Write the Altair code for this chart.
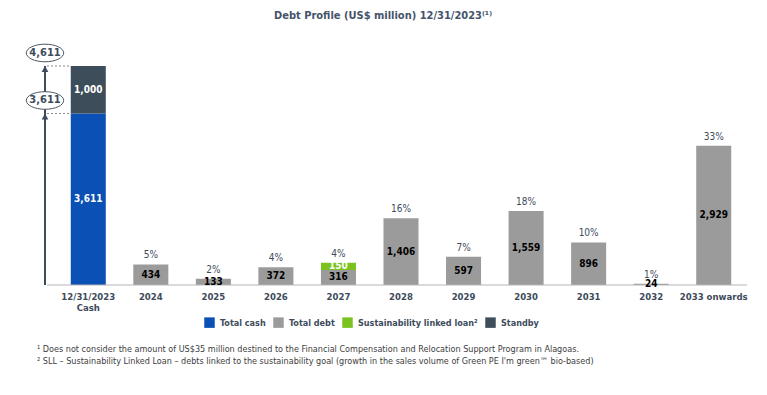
import altair as alt
import pandas as pd

categories = ["12/31/2023 Cash", "2024", "2025", "2026", "2027", "2028",
              "2029", "2030", "2031", "2032", "2033 onwards"]
cash_value = 3611
standby_value = 1000
debt_years = categories[1:]
debt_values = [434, 133, 372, 316, 1406, 597, 1559, 896, 24, 2929]
debt_pct = ["5%", "2%", "4%", "4%", "16%", "7%", "18%", "10%", "1%", "33%"]
sll_year = "2027"
sll_value = 150
series_names = ["Total cash", "Total debt", "Sustainability linked loan²", "Standby"]
series_colors = ["#0b50b5", "#9b9b9b", "#7cc21e", "#3e4d5a"]
title_text = "Debt Profile (US$ million) 12/31/2023⁽¹⁾"
footnotes = [
    "¹ Does not consider the amount of US$35 million destined to the Financial Compensation and Relocation Support Program in Alagoas.",
    "² SLL – Sustainability Linked Loan – debts linked to the sustainability goal (growth in the sales volume of Green PE I'm green™ bio-based)",
]

FONT = "DejaVu Sans Condensed"
DARK = "#3d4b5b"

rows = []
rows.append(dict(cat=categories[0], series=series_names[0], y0=0, y1=cash_value,
                 label=f"{cash_value:,}", white=True))
rows.append(dict(cat=categories[0], series=series_names[3], y0=cash_value,
                 y1=cash_value + standby_value, label=f"{standby_value:,}", white=True))
for yr, v in zip(debt_years, debt_values):
    rows.append(dict(cat=yr, series=series_names[1], y0=0, y1=v, label=f"{v:,}", white=False))
    if yr == sll_year:
        rows.append(dict(cat=yr, series=series_names[2], y0=v, y1=v + sll_value,
                         label=f"{sll_value:,}", white=True))
seg = pd.DataFrame(rows)
seg["mid"] = (seg["y0"] + seg["y1"]) / 2
seg_white = seg[seg["white"]].drop(columns=["white"]).reset_index(drop=True)
seg_black = seg[~seg["white"]].drop(columns=["white"]).reset_index(drop=True)
seg = seg.drop(columns=["white"])

tops = []
for yr, v, p in zip(debt_years, debt_values, debt_pct):
    extra = sll_value if yr == sll_year else 0
    tops.append(dict(cat=yr, top=v + extra, pct=p))
tops = pd.DataFrame(tops)

cash_marks = pd.DataFrame({"v": [cash_value, cash_value + standby_value],
                           "t": [f"{cash_value:,}", f"{cash_value + standby_value:,}"]})

yscale = alt.Scale(domain=[0, 4800], nice=False)
xscale = alt.Scale(domain=categories, paddingInner=0.44, paddingOuter=0.22)


def Y(field):
    return alt.Y(field, scale=yscale, axis=None)


base_x = alt.X("cat:N", scale=xscale, title=None,
               axis=alt.Axis(labelAngle=0, domain=False, ticks=False, labelPadding=6,
                             labelFont=FONT, labelFontWeight="bold", labelFontSize=9.5,
                             labelColor=DARK, labelLineHeight=11,
                             labelExpr="datum.value == '12/31/2023 Cash' ? ['12/31/2023', 'Cash'] : datum.value"))

bars = alt.Chart(seg).mark_bar().encode(
    x=base_x,
    y=Y("y0:Q"),
    y2="y1:Q",
    color=alt.Color("series:N", scale=alt.Scale(domain=series_names, range=series_colors),
                    legend=alt.Legend(orient="none", legendX=147, legendY=260,
                                      direction="horizontal", title=None,
                                      symbolType="square", symbolSize=110,
                                      symbolStrokeWidth=0, labelFont=FONT,
                                      labelFontWeight="bold", labelFontSize=9,
                                      labelColor=DARK, columnPadding=7,
                                      labelOffset=5)),
)


def bar_text(df, col):
    return alt.Chart(df).mark_text(font=FONT, fontWeight="bold", fontSize=10,
                                   baseline="middle", color=col).encode(
        x=base_x,
        y=Y("mid:Q"),
        text="label:N",
    )


labels_white = bar_text(seg_white, "white")
labels_black = bar_text(seg_black, "black")

pct_labels = alt.Chart(tops).mark_text(font=FONT, fontSize=10, color=DARK,
                                       baseline="middle", dy=-9).encode(
    x=base_x,
    y=Y("top:Q"),
    text="pct:N",
)

zero = pd.DataFrame({"v": [0]})
baseline = alt.Chart(zero).mark_rule(color="#b5b5b5", strokeWidth=1).encode(
    x=alt.value(-10), x2=alt.value(690), y=Y("v:Q"))

arrow = alt.Chart(pd.DataFrame({"a": [0], "b": [cash_value + standby_value]})).mark_rule(
    color=DARK, strokeWidth=2).encode(
    x=alt.value(-12), y=Y("a:Q"), y2="b:Q")

heads = alt.Chart(cash_marks).mark_point(shape="triangle-up", filled=True, size=45,
                                         color=DARK, opacity=1, yOffset=3).encode(
    x=alt.value(-12), y=Y("v:Q"))

dots = alt.Chart(cash_marks).mark_rule(color="#8a8a8a", strokeDash=[2, 2], strokeWidth=1).encode(
    x=alt.value(-10), x2=alt.value(14), y=Y("v:Q"))

ellipse_path = ("M -1 0 C -1 -0.26 -0.55 -0.47 0 -0.47 C 0.55 -0.47 1 -0.26 1 0 "
                "C 1 0.26 0.55 0.47 0 0.47 C -0.55 0.47 -1 0.26 -1 0 Z")
ellipses = alt.Chart(cash_marks).mark_point(shape=ellipse_path, size=1400, filled=True,
                                            fill="white", stroke="#4d5866", strokeWidth=1,
                                            opacity=1, yOffset=-13).encode(
    x=alt.value(-12), y=Y("v:Q"))

ell_text = alt.Chart(cash_marks).mark_text(font=FONT, fontSize=11, fontWeight="bold",
                                           color=DARK, baseline="middle", dy=-13).encode(
    x=alt.value(-12), y=Y("v:Q"), text="t:N")

title = alt.Chart(pd.DataFrame({"t": [title_text]})).mark_text(
    font=FONT, fontSize=11, fontWeight="bold", color="#44546a", align="center",
    baseline="middle").encode(x=alt.value(326), y=alt.value(-41), text="t:N")

foot1 = alt.Chart(pd.DataFrame({"t": [footnotes[0]]})).mark_text(
    font=FONT, fontSize=9, color="#404040", align="left", baseline="middle").encode(
    x=alt.value(-20), y=alt.value(292), text="t:N")
foot2 = alt.Chart(pd.DataFrame({"t": [footnotes[1]]})).mark_text(
    font=FONT, fontSize=9, color="#404040", align="left", baseline="middle").encode(
    x=alt.value(-20), y=alt.value(304), text="t:N")

chart = alt.layer(bars, baseline, labels_white, labels_black, pct_labels, arrow, heads, dots,
                  ellipses, ell_text, title, foot1, foot2).properties(
    width=688, height=228,
    autosize=alt.AutoSizeParams(type="none"),
    padding={"left": 49, "top": 49, "right": 12, "bottom": 95},
).configure_view(stroke=None)

chart.save("out.html", embed_options={"renderer": "svg", "actions": False})
